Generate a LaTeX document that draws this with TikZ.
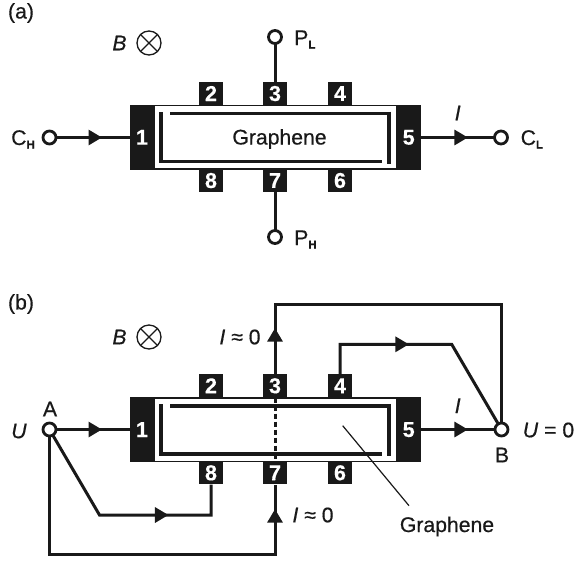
\documentclass[tikz,border=0pt]{standalone}
\usepackage{fontspec}
\setmainfont{Liberation Sans}[FakeBold=0.45]
\usetikzlibrary{arrows.meta,decorations.markings}
\newcommand{\subs}[1]{\raisebox{-3.5pt}{\fontsize{11.5}{12}\selectfont\bfseries #1}}
\tikzset{
  txt/.style={font=\fontsize{21.2}{24}\selectfont, inner sep=0pt, text=black!90},
  basetxt/.style={txt, anchor=base west},
  tab/.style={fill=black!90, text=white, minimum width=24pt, minimum height=23pt, inner sep=0pt, font=\fontsize{21.5}{24}\selectfont\bfseries},
  blockc/.style={tab, minimum height=64.5pt},
  channel/.style={draw=black!90, fill=white, line width=1.4pt, minimum width=243pt, minimum height=63.5pt, inner sep=0pt},
  term/.style={circle, draw=black!90, fill=white, line width=2.8pt, minimum size=13pt, inner sep=0pt, outer sep=0pt},
  wire/.style={draw=black!90, line width=3pt},
  inbar/.style={draw=black!90, line width=3.8pt},
  thin wire/.style={draw=black!90, line width=1.2pt},
  tipat/.style={postaction={decorate, decoration={markings, mark=at position #1 with {\arrow[black!90]{Triangle[length=13.5pt,width=15pt]}}}}},
  otimesn/.style={circle, draw=black!90, line width=1.3pt, minimum size=24pt, inner sep=0pt,
    path picture={\draw[black!90, line width=1.3pt]
      (path picture bounding box.south west) -- (path picture bounding box.north east)
      (path picture bounding box.north west) -- (path picture bounding box.south east);}}
}
\begin{document}
\begin{tikzpicture}[x=1pt,y=-1pt]
\useasboundingbox (0,0) rectangle (575,563);
%% ---------- panel a ----------
\node[txt] (alab) at (21,13) {(a)};
\node[txt] (aB) at (119.5,43) {\textit{B}};
\node[otimesn] (aot) at (149,43) {};
\node[channel] (ach) at (275.5,137.3) {};
\node[blockc] (a1) at (142,137.3) {1};
\node[blockc] (a5) at (408.7,137.3) {5};
\node[tab] (a2) at (211,93.5) {2};
\node[tab] (a3) at (275,93.5) {3};
\node[tab] (a4) at (340,93.5) {4};
\node[tab] (a8) at (211,180.5) {8};
\node[tab] (a7) at (275,180.5) {7};
\node[tab] (a6) at (340,180.5) {6};
\draw[inbar] (170,113.5) -- (389,113.5);
\draw[inbar] (389,111.6) -- (389,164);
\draw[inbar] (161,112) -- (161,161.5);
\draw[inbar] (159.1,161.5) -- (382,161.5);
\node[txt, anchor=base] (agr) at (279.5,144.5) {Graphene};
\node[term] (aCH) at (49.5,137.5) {};
\node[term] (aCL) at (501,137.5) {};
\node[term] (aPL) at (275,37) {};
\node[term] (aPH) at (275,237) {};
\draw[wire, tipat=46pt] (aCH) -- (a1.west |- aCH);
\draw[wire, tipat=47pt] (a5.east |- aCL) -- (aCL);
\draw[wire] (aPL) -- (a3);
\draw[wire] (aPH) -- (a7);
\node[basetxt] (aCHt) at (11,145) {C\subs{H}};
\node[basetxt] (aCLt) at (520.5,145) {C\subs{L}};
\node[basetxt] (aPLt) at (294,45) {P\subs{L}};
\node[basetxt] (aPHt) at (294,245) {P\subs{H}};
\node[txt] (aI) at (457.7,113) {\textit{I}};
%% ---------- panel b ----------
\node[txt] (blab) at (21,304) {(b)};
\node[txt] (bB) at (119.5,337) {\textit{B}};
\node[otimesn] (bot) at (149,337) {};
\node[channel] (bch) at (275.5,429.6) {};
\node[blockc] (b1) at (142,429.6) {1};
\node[blockc] (b5) at (408.7,429.6) {5};
\node[tab] (b2) at (211,385.8) {2};
\node[tab] (b3) at (275,385.8) {3};
\node[tab] (b4) at (340,385.8) {4};
\node[tab] (b8) at (211,472.8) {8};
\node[tab] (b7) at (275,472.8) {7};
\node[tab] (b6) at (340,472.8) {6};
\draw[inbar] (170,405.8) -- (389,405.8);
\draw[inbar] (389,403.9) -- (389,456.3);
\draw[inbar] (161,404.3) -- (161,453.8);
\draw[inbar] (159.1,453.8) -- (382,453.8);
\draw[wire, dashed, dash pattern=on 5pt off 3pt] (b3) -- (b7);
\node[term] (bA) at (49.5,429.5) {};
\node[term] (bBt) at (501.5,429.5) {};
\coordinate (k8) at (99.5,515);
\coordinate (k4) at (451.7,344.3);
\draw[wire, tipat=46pt] (bA) -- (b1.west |- bA);
\draw[wire, tipat=47pt] (b5.east |- bBt) -- (bBt);
\draw[wire, tipat=161.5pt] (bA) -- (k8) -| (b8);
\draw[wire, tipat=389pt] (bA) |- (275,554.3) -- (b7);
\draw[wire, tipat=46pt] (b3) |- (bBt |- 0,304.3) -- (bBt);
\draw[wire, tipat=98.7pt] (b4) |- (k4) -- (bBt);
\node[txt] (bAt) at (50,409) {A};
\node[txt] (bBl) at (502,455) {B};
\node[txt] (bU) at (19,431) {\textit{U}};
\node[txt] (bU0) at (548.5,430) {\textit{U} = 0};
\node[txt] (bI) at (457.7,405.7) {\textit{I}};
\node[txt] (bI1) at (240,337) {\textit{I} ≈ 0};
\node[txt] (bI2) at (313,515) {\textit{I} ≈ 0};
\node[txt, anchor=base] (bgr) at (447,532) {Graphene};
\coordinate (gp) at (342.7,425.7);
\coordinate (ge) at (409,505.7);
\draw[thin wire] (gp) -- (ge);
\end{tikzpicture}
\end{document}
